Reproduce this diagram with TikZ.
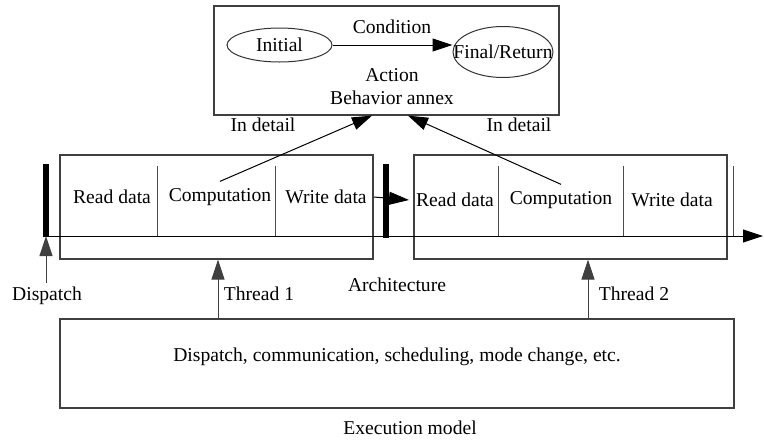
\documentclass[tikz,border=0pt]{standalone}
\usepackage{fontspec}
\setmainfont{Liberation Serif}
\usetikzlibrary{arrows.meta,shapes.geometric}

\begin{document}
\begin{tikzpicture}[
	x=0.5pt, y=-0.5pt,
	every node/.style={font=\fontsize{9.8}{11}\selectfont},
	frame/.style={draw=black!75, rectangle, inner sep=0pt, line width=0.6pt},
	state/.style={draw=black!80, ellipse, inner xsep=-30pt, inner ysep=-10pt, line width=0.5pt},
	divider/.style={draw=black!70, line width=0.5pt},
	bar/.style={line width=2.6pt},
	arrow/.style={-{Triangle[length=10pt,width=6.5pt]}, line width=0.5pt}
	]
	\useasboundingbox (0,0) rectangle (764,440);
	
	% Behavior annex
	\node[frame, minimum width=172.5pt, minimum height=54.5pt] (annex) at (386.5,60.5) {};
	\node[state, minimum width=52.5pt, minimum height=17pt] (init) at (279.5,45) {Initial};
	\node[state, minimum width=50pt, minimum height=25.5pt] (final) at (503,52) {Final/Return};
	\node (cond) at (392,27) {Condition};
	\node (action) at (392,75) {Action};
	\node (annexlbl) at (392,98) {Behavior annex};
	\draw[arrow] (init.east) -- (init.east -| final.west);
	
	% Threads
	\foreach \n/\cx in {1/216.5, 2/570.5}
		\node[frame, minimum width=156.5pt, minimum height=52pt] (thr\n) at (\cx,207) {};
	
	\foreach \name/\x/\y/\txt in {rd1/112/197/Read data, cp1/220/197/Computation, wr1/326/197/Write data,
		rd2/455/200/Read data, cp2/561/200/Computation, wr2/672/200/Write data}
		\node (\name) at (\x,\y) {\txt};
	
	\foreach \x in {157,275,498,623,733}
		\draw[divider] (\x,166) -- (\x,236);
	
	% Time line and dispatch bars
	\coordinate (t0) at (45,236);
	\coordinate (t1) at (763,236);
	\draw[arrow] (t0) -- (t1);
	\draw[bar] (46,164) -- (46,237);
	\draw[bar] (386,164) -- (386,238);
	
	\draw[arrow] (wr1.east) -- (rd2.west);
	
	% In detail
	\coordinate (in1) at (372,0);
	\coordinate (in2) at (408,0);
	\draw[arrow] (cp1.north) -- (annex.south -| in1);
	\draw[arrow] (cp2.north) -- (annex.south -| in2);
	\node (det1) at (263,125) {In detail};
	\node (det2) at (519,125) {In detail};
	
	% Execution model
	\node[frame, minimum width=337pt, minimum height=44.5pt] (exec) at (397,363.5) {};
	\node (execlbl) at (397,357) {Dispatch, communication, scheduling, mode change, etc.};
	\node (execname) at (410,428) {Execution model};
	\node (arch) at (397,285) {Architecture};
	
	\node (dispatch) at (47,296) {Dispatch};
	\coordinate (dfoot) at (46,283);
	\draw[arrow, draw=black!75] (dfoot) -- (t0 -| dfoot);
	
	\node (th1) at (259,294) {Thread 1};
	\node (th2) at (634,294) {Thread 2};
	\coordinate (up1) at (218,0);
	\coordinate (up2) at (588,0);
	\draw[arrow, draw=black!75] (exec.north -| up1) -- (thr1.south -| up1);
	\draw[arrow, draw=black!75] (exec.north -| up2) -- (thr2.south -| up2);
	
\end{tikzpicture}
\end{document}
